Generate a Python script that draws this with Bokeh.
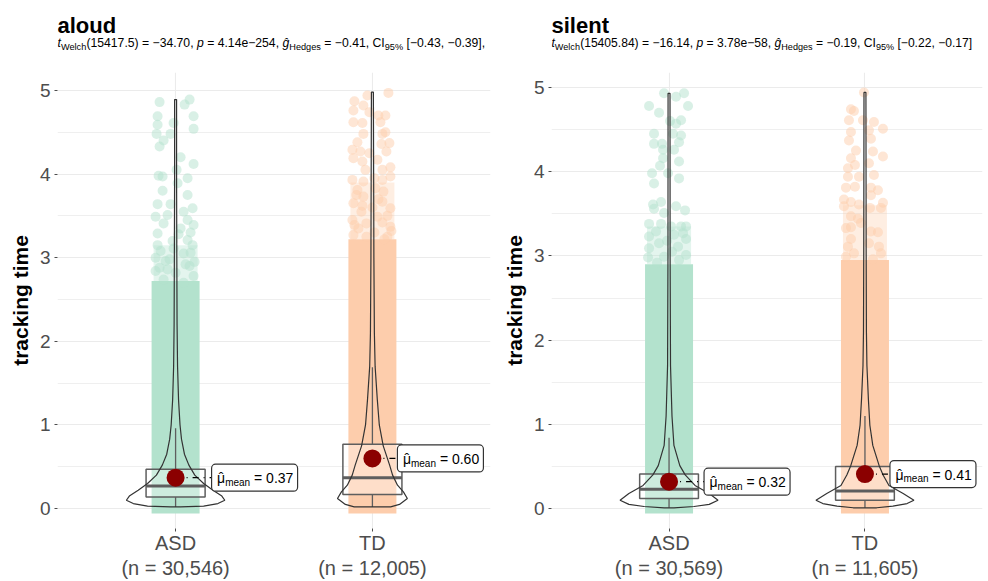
from bokeh.plotting import figure
from bokeh.layouts import row, column
from bokeh.models import Range1d, FixedTicker, Label, Rect
from bokeh.core.properties import value
from bokeh.embed import file_html
from bokeh.resources import INLINE

FONT = "Liberation Sans"
BASE_SHIFT = 0.32  # em correction of the rendered alphabetic baseline

# ---------------- data ----------------
GROUPS = ["ASD", "TD"]
COLORS = ["#B3E2CD", "#FDCDAC"]

N_ALOUD = [30546, 12005]
N_SILENT = [30569, 11605]

MEAN_ALOUD = [0.37, 0.60]
MEAN_SILENT = [0.32, 0.41]

Q1_ALOUD = [0.14, 0.17]
MED_ALOUD = [0.27, 0.37]
Q3_ALOUD = [0.47, 0.77]
WLO_ALOUD = [0.02, 0.02]
WHI_ALOUD = [0.96, 1.69]

Q1_SILENT = [0.12, 0.10]
MED_SILENT = [0.23, 0.21]
Q3_SILENT = [0.41, 0.50]
WLO_SILENT = [0.01, 0.01]
WHI_SILENT = [0.84, 1.10]

# top of the saturated part of the jittered point cloud, and of its half-dense part
DENSE_TOP_ALOUD = [2.72, 3.22]
DENSE_TOP_SILENT = [2.90, 2.95]
MID_TOP_ALOUD = [3.15, 3.90]
MID_TOP_SILENT = [3.35, 3.60]

# stats: df, t, p, g, ci_lo, ci_hi
STATS_ALOUD = ["15417.5", "−34.70", "4.14e−254", "−0.41", "−0.43", "−0.39"]
STATS_SILENT = ["15405.84", "−16.14", "3.78e−58", "−0.19", "−0.22", "−0.17"]

# violin density profiles (relative density 0..1)
VIO_Y_ASD_ALOUD = [0.02, 0.03, 0.06, 0.10, 0.15, 0.22, 0.30, 0.40, 0.52, 0.65, 0.83, 1.00, 1.30, 1.70, 2.20, 3.00, 4.00, 4.89]
VIO_D_ASD_ALOUD = [0.10, 0.57, 0.86, 1.00, 0.94, 0.76, 0.57, 0.39, 0.27, 0.18, 0.12, 0.09, 0.06, 0.04, 0.03, 0.025, 0.02, 0.02]
VIO_Y_TD_ALOUD = [0.02, 0.05, 0.12, 0.20, 0.28, 0.40, 0.52, 0.75, 1.00, 1.30, 1.70, 2.10, 3.00, 4.00, 4.98]
VIO_D_TD_ALOUD = [0.37, 0.55, 0.71, 0.63, 0.51, 0.41, 0.35, 0.22, 0.14, 0.10, 0.055, 0.04, 0.03, 0.025, 0.02]
VIO_Y_ASD_SILENT = [0.01, 0.025, 0.05, 0.10, 0.18, 0.275, 0.40, 0.51, 0.75, 1.10, 1.70, 3.00, 4.93]
VIO_D_ASD_SILENT = [0.10, 0.51, 0.82, 1.00, 0.82, 0.53, 0.33, 0.22, 0.10, 0.06, 0.03, 0.022, 0.02]
VIO_Y_TD_SILENT = [0.01, 0.03, 0.06, 0.10, 0.18, 0.275, 0.40, 0.51, 0.75, 0.99, 1.30, 1.70, 2.10, 3.00, 4.94]
VIO_D_TD_SILENT = [0.24, 0.57, 0.86, 1.00, 0.78, 0.49, 0.37, 0.29, 0.16, 0.10, 0.07, 0.04, 0.03, 0.025, 0.02]

# sparse (visible) individual points above the saturated cloud: value and jitter (px)
PTS_Y_ASD_ALOUD = [4.86, 4.89, 4.83, 4.69, 4.69, 4.59, 4.61, 4.54, 4.48, 4.48, 4.40, 4.33, 4.20, 4.12, 4.05,
                   3.98, 3.97, 3.95, 3.89, 3.80, 3.75, 3.64, 3.64, 3.59, 3.49, 3.51, 3.55, 3.39, 3.41, 3.29,
                   3.28, 3.21, 3.15, 3.11, 3.06, 3.00, 2.96, 2.92, 2.84, 2.78, 2.74, 2.70, 3.45, 3.30, 3.35,
                   3.20, 3.15, 3.05, 3.08, 2.98, 2.90, 2.88, 2.82, 2.86, 2.95]
PTS_J_ASD_ALOUD = [-16, 14, 9, 18, -18, -18, -2, 18, -19, -5, -12, -16, 5, 18, 1,
                   -17, -13, 12, 2, -13, 12, -18, -5, 17, -20, -8, 8, 18, -12, -18,
                   3, 12, -18, -2, 15, -20, -10, 10, -20, 18, -12, 8, 12, 15, 5,
                   -3, 17, 8, -15, -6, 14, -16, 0, -8, 19]
PTS_Y_TD_ALOUD = [4.97, 4.94, 4.87, 4.82, 4.76, 4.74, 4.70, 4.70, 4.62, 4.61, 4.48, 4.48, 4.38, 4.37, 4.36,
                  4.29, 4.27, 4.27, 4.19, 4.17, 4.15, 4.05, 4.05, 4.08, 3.93, 3.91, 3.93, 3.97, 3.83, 3.81,
                  3.79, 3.65, 3.73, 3.67, 3.59, 3.55, 3.49, 3.39, 3.41, 3.37, 3.42, 3.27, 3.25, 3.35, 3.30,
                  3.22, 3.25, 3.32, 3.45, 3.60, 3.50, 3.62, 3.70, 3.75, 3.95, 4.25, 4.50, 4.62]
PTS_J_TD_ALOUD = [16, -5, -18, -9, -19, -3, 6, 13, 8, -10, 10, -9, -15, 17, 9,
                  -20, 14, -12, -19, 5, -10, -7, 10, 18, -20, -9, 10, 18, 3, -15,
                  11, -19, -9, 10, 18, -11, 5, -18, -6, 18, 10, -19, 15, -14, 2,
                  12, -6, 19, -20, 0, 15, -10, 6, -16, 2, -3, 13, -19]
PTS_Y_ASD_SILENT = [4.93, 4.93, 4.89, 4.78, 4.78, 4.70, 4.60, 4.61, 4.57, 4.45, 4.43, 4.45, 4.33, 4.33, 4.35,
                    4.26, 4.26, 4.16, 4.12, 4.07, 3.98, 3.98, 3.92, 3.86, 3.61, 3.64, 3.59, 3.54, 3.56, 3.51,
                    3.38, 3.38, 3.35, 3.35, 3.35, 3.29, 3.23, 3.25, 3.20, 3.15, 3.11, 3.09, 3.01, 2.99, 2.98,
                    3.05, 2.95, 3.18, 2.92, 3.27]
PTS_J_ASD_SILENT = [-5, 15, 7, -20, 19, -10, 1, 12, 7, -15, 12, 4, -15, -7, 10,
                    -6, 5, -6, 10, -9, -17, -1, 10, -15, -16, -8, 7, 16, -15, -5,
                    -20, -8, 2, 12, 17, -13, -20, 5, 17, -10, 9, -20, 17, -5, -21,
                    3, 10, -2, -12, 14]
PTS_Y_TD_SILENT = [4.94, 4.74, 4.72, 4.61, 4.61, 4.59, 4.51, 4.47, 4.49, 4.37, 4.39, 4.25, 4.24, 4.18, 4.16,
                   4.08, 4.10, 4.04, 3.96, 3.94, 3.94, 3.81, 3.82, 3.81, 3.78, 3.72, 3.67, 3.64, 3.59, 3.61,
                   3.63, 3.57, 3.57, 3.47, 3.44, 3.33, 3.34, 3.39, 3.29, 3.28, 3.20, 3.11, 3.11, 3.15, 3.03,
                   3.03, 2.99, 2.96]
PTS_J_TD_SILENT = [-1, -14, -11, -16, -2, 9, 18, -14, 4, -16, 6, -9, 8, 18, -14,
                   -10, 4, -17, 9, -17, -6, -19, -10, 6, 13, 6, -21, -14, -21, -6,
                   18, 16, 5, -14, -7, -19, -14, -4, 6, 13, -14, -17, 14, 4, -11,
                   16, -19, 8]

# ---------------- text helpers ----------------
W = {' ': 278, '(': 333, ')': 333, ',': 278, '.': 278, '=': 584, '[': 278, ']': 278, '%': 889,
     '−': 584, '-': 333, 'a': 556, 'c': 500, 'd': 556, 'e': 556, 'g': 556, 'h': 556, 'i': 222,
     'l': 222, 'm': 833, 'n': 556, 'p': 556, 's': 500, 't': 278, 'u': 556, 'o': 556, 'C': 722,
     'H': 722, 'I': 278, 'W': 944, 'ĝ': 556, 'μ': 576, 'ˆ': 333}
for d in "0123456789":
    W[d] = 556


def tw(s, size):
    return sum(W.get(ch, 556) for ch in s) * size / 1000.0


def layout_runs(runs, size, sub_size, sub_drop):
    """returns list of (text, style, font size, x offset, y drop) for each run"""
    out = []
    xo = 0.0
    for txt, style, kind in runs:
        s = size if kind == "base" else sub_size
        dy = 0 if kind == "base" else sub_drop
        lead = len(txt) - len(txt.lstrip(" "))
        body = txt.strip(" ")
        if body:
            out.append((body, style, s, xo + tw(" " * lead, s), dy))
        xo += tw(txt, s)
    return out


HAS_RADIUS = "border_radius" in Rect.properties()

HEADER_H = 66
MAIN_H = 515


def make_header(width, lb, rb, x0, name, stats, tail, size, sub_size):
    # the column layout aligns this frame with the panel frame below: map data = pixels
    h = figure(width=width, height=HEADER_H, x_range=Range1d(lb, width - rb),
               y_range=Range1d(HEADER_H, 0), title_location=None,
               output_backend="svg", toolbar_location=None, min_border=0,
               x_axis_type=None, y_axis_type=None)
    h.grid.visible = False
    h.outline_line_color = None
    h.background_fill_color = "white"
    h.border_fill_color = "white"
    h.text(x=[x0], y=[32.3 - BASE_SHIFT * 22], text=[name], text_font=value(FONT),
           text_font_size=value("22px"), text_font_style="bold", text_baseline="alphabetic",
           text_align="left", text_color="black")
    df, t, pv, g, lo, hi = stats
    runs = [("t", "italic", "base"), ("Welch", "normal", "sub"),
            (f"({df}) = {t}, ", "normal", "base"), ("p", "italic", "base"),
            (f" = {pv}, ", "normal", "base"), ("ĝ", "italic", "base"), ("Hedges", "normal", "sub"),
            (f" = {g}, CI", "normal", "base"), ("95%", "normal", "sub"),
            (f" [{lo}, {hi}]{tail}", "normal", "base")]
    for body, style, s, xo, dy in layout_runs(runs, size, sub_size, 3):
        h.text(x=[x0 + xo], y=[46.7 + dy - BASE_SHIFT * s], text=[body], text_font=value(FONT),
               text_font_size=value(f"{s}px"), text_font_style=style, text_baseline="alphabetic",
               text_align="left", text_color="black")
    return h


def make_panel(width, lb, rb, yr, n, means, q1, med, q3, wlo, whi, dense_top, mid_top,
               vio, pts, label_dx):
    top_border = 6
    p = figure(width=width, height=MAIN_H, x_range=Range1d(0.4, 2.6), y_range=Range1d(*yr),
               output_backend="svg", toolbar_location=None,
               min_border_left=lb, min_border_right=rb, min_border_top=top_border, min_border_bottom=0)
    p.outline_line_color = None
    p.background_fill_color = "white"
    p.border_fill_color = "white"

    frame_w = width - lb - rb
    pxx = frame_w / 2.2
    pxy = (MAIN_H - top_border - 51) / (yr[1] - yr[0])

    # axes
    p.xaxis.ticker = FixedTicker(ticks=[1, 2])
    p.xaxis.major_label_overrides = {1: f"{GROUPS[0]}\n(n = {n[0]:,})", 2: f"{GROUPS[1]}\n(n = {n[1]:,})"}
    p.yaxis.ticker = FixedTicker(ticks=[0, 1, 2, 3, 4, 5], minor_ticks=[0.5, 1.5, 2.5, 3.5, 4.5])
    for ax in (p.xaxis[0], p.yaxis[0]):
        ax.axis_line_color = None
        ax.major_tick_line_color = "#4D4D4D"
        ax.major_tick_in = 0
        ax.major_tick_out = 3
        ax.minor_tick_line_color = None
        ax.major_label_text_font = FONT
        ax.major_label_text_color = "#4D4D4D"
    p.xaxis.major_label_text_font_size = "20px"
    p.xaxis.major_label_text_line_height = 1.15
    p.xaxis.major_label_standoff = 0
    p.yaxis.major_label_text_font_size = "19px"
    p.yaxis.major_label_standoff = 3
    p.yaxis.axis_label = "tracking time"
    p.yaxis.axis_label_text_font = FONT
    p.yaxis.axis_label_text_font_size = "21px"
    p.yaxis.axis_label_text_font_style = "bold"
    p.yaxis.axis_label_text_color = "black"
    p.yaxis.axis_label_standoff = 5

    p.xgrid.ticker = FixedTicker(ticks=[1, 2])
    p.xgrid.grid_line_color = "#EBEBEB"
    p.xgrid.grid_line_width = 1.1
    p.ygrid.grid_line_color = "#EBEBEB"
    p.ygrid.grid_line_width = 1.1
    p.ygrid.minor_grid_line_color = "#EBEBEB"
    p.ygrid.minor_grid_line_width = 0.8

    for i in range(2):
        c = i + 1
        col = COLORS[i]
        hw = 24 / pxx
        # saturated and half-dense parts of the point cloud
        p.quad(left=[c - 22 / pxx], right=[c + 22 / pxx], bottom=[dense_top[i]], top=[mid_top[i]],
               fill_color=col, fill_alpha=0.35, line_color=None)
        p.quad(left=[c - hw], right=[c + hw], bottom=[-5 / pxy], top=[dense_top[i]],
               fill_color=col, line_color=None)
        py, pj = pts[i]
        m = min(len(py), len(pj))
        p.scatter(x=[c + j / pxx for j in pj[:m]], y=py[:m], size=10,
                  fill_color=col, fill_alpha=0.5, line_color=None)
        # box
        p.quad(left=[c - 0.15], right=[c + 0.15], bottom=[q1[i]], top=[q3[i]],
               fill_color="white", fill_alpha=0.35, line_color="#5E5E5E", line_width=1.5)
        p.segment(x0=[c - 0.15], y0=[med[i]], x1=[c + 0.15], y1=[med[i]],
                  line_color="#5E5E5E", line_width=3)
        p.segment(x0=[c, c], y0=[q3[i], wlo[i]], x1=[c, c], y1=[whi[i], q1[i]],
                  line_color="#5E5E5E", line_width=1.3)
        # violin
        vy, vd = vio[i]
        xs = [c - d * 0.25 for d in vd] + [c + d * 0.25 for d in reversed(vd)]
        ys = list(vy) + list(reversed(vy))
        p.patch(xs, ys, fill_color=None, line_color="#333333", line_width=1.2)
        # mean
        dx = label_dx[i]
        p.segment(x0=[c], y0=[means[i]], x1=[c + dx / pxx], y1=[means[i]],
                  line_color="black", line_width=1.1, line_dash="6 5 1 5")
        p.scatter(x=[c], y=[means[i]], size=18, fill_color="#8B0000", line_color=None)
        rect_kw = dict(x=[c + (dx + 43) / pxx], y=[means[i]], width=86, height=27,
                       width_units="screen", height_units="screen",
                       fill_color="white", line_color="#333333", line_width=1.2)
        if HAS_RADIUS:
            rect_kw["border_radius"] = 4
        p.rect(**rect_kw)
        runs = [("μ", "normal", "base"), ("mean", "normal", "sub"),
                (f" = {means[i]:.2f}", "normal", "base")]
        for body, style, s, xo, dy in layout_runs(runs, 14, 10, 3):
            p.add_layout(Label(x=c, y=means[i], x_offset=dx + 5.5 + xo,
                               y_offset=-5 - dy + BASE_SHIFT * s,
                               text=body, text_font=FONT, text_font_size=f"{s}px",
                               text_font_style=style, text_baseline="alphabetic",
                               text_align="left", text_color="black"))
        # hat over mu
        p.add_layout(Label(x=c, y=means[i], x_offset=dx + 5.5 + 1.7, y_offset=-5 + BASE_SHIFT * 14,
                           text="ˆ", text_font=FONT, text_font_size="14px",
                           text_baseline="alphabetic", text_align="left", text_color="black"))
    return p


h1 = make_header(494, 57, 4, 57, "aloud", STATS_ALOUD, ",", 12.2, 9.2)
p1 = make_panel(494, 57, 4, (-0.238, 5.214), N_ALOUD, MEAN_ALOUD, Q1_ALOUD, MED_ALOUD,
                Q3_ALOUD, WLO_ALOUD, WHI_ALOUD, DENSE_TOP_ALOUD, MID_TOP_ALOUD,
                [(VIO_Y_ASD_ALOUD, VIO_D_ASD_ALOUD), (VIO_Y_TD_ALOUD, VIO_D_TD_ALOUD)],
                [(PTS_Y_ASD_ALOUD, PTS_J_ASD_ALOUD), (PTS_Y_TD_ALOUD, PTS_J_TD_ALOUD)],
                [36, 25])
h2 = make_header(494, 57, 6, 57, "silent", STATS_SILENT, "", 12.1, 9.1)
p2 = make_panel(494, 57, 6, (-0.236, 5.177), N_SILENT, MEAN_SILENT, Q1_SILENT, MED_SILENT,
                Q3_SILENT, WLO_SILENT, WHI_SILENT, DENSE_TOP_SILENT, MID_TOP_SILENT,
                [(VIO_Y_ASD_SILENT, VIO_D_ASD_SILENT), (VIO_Y_TD_SILENT, VIO_D_TD_SILENT)],
                [(PTS_Y_ASD_SILENT, PTS_J_ASD_SILENT), (PTS_Y_TD_SILENT, PTS_J_TD_SILENT)],
                [35, 25])

layout = row(column(h1, p1), column(h2, p2))
open("out.html", "w").write(file_html(layout, INLINE))
